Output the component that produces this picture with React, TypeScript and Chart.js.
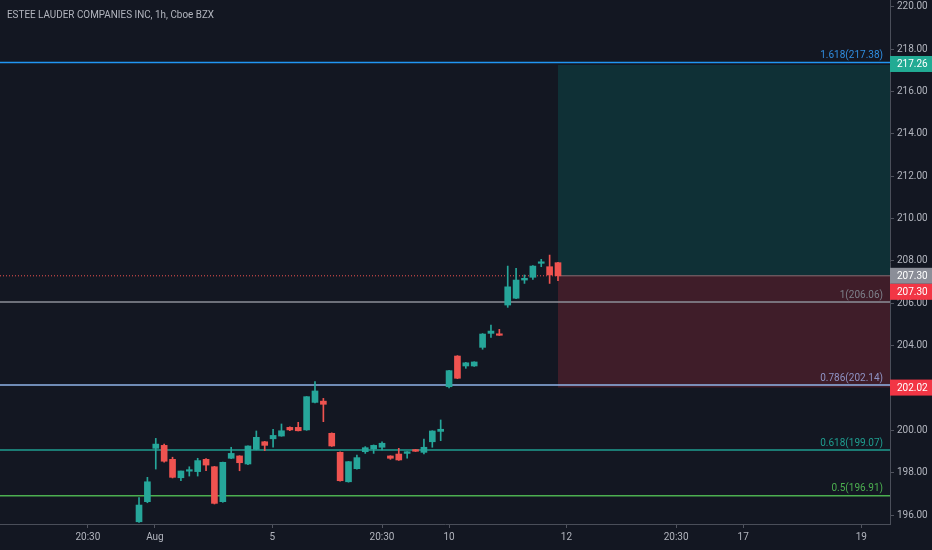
import React, { useEffect, useRef } from "react";
import { Chart, registerables } from "chart.js";

Chart.register(...registerables);

// ---- data ----
const title = "ESTEE LAUDER COMPANIES INC, 1h, Cboe BZX";
const opens = [195.68, 196.63, 199.15, 199.29, 198.63, 197.76, 198.07, 198.05, 198.63, 198.28, 196.63, 198.68, 198.79, 198.41, 199.10, 199.46, 199.60, 199.73, 200.14, 200.14, 200.02, 201.32, 201.38, 199.86, 198.96, 197.57, 198.19, 198.99, 199.12, 199.20, 198.79, 198.88, 198.91, 199.09, 198.96, 199.46, 199.95, 202.06, 203.51, 203.04, 203.04, 203.92, 204.58, 204.55, 205.92, 206.24, 207.10, 207.23, 207.89, 207.73, 207.92];
const highs = [196.82, 197.78, 199.62, 199.35, 198.73, 198.08, 198.28, 198.68, 198.66, 198.30, 198.50, 199.20, 198.80, 199.27, 199.97, 199.48, 200.05, 200.30, 200.16, 200.38, 201.60, 202.30, 201.51, 199.88, 198.98, 198.53, 198.83, 199.23, 199.31, 199.46, 198.80, 199.15, 199.00, 199.10, 199.59, 199.98, 200.49, 202.84, 203.53, 203.21, 203.24, 204.57, 204.97, 204.77, 207.76, 207.65, 207.34, 207.78, 208.08, 208.28, 207.94];
const lows = [195.65, 196.58, 198.17, 198.50, 197.75, 197.62, 197.84, 197.84, 198.09, 196.52, 196.60, 198.66, 198.09, 198.38, 199.08, 199.04, 199.20, 199.72, 199.99, 199.97, 200.00, 201.30, 200.41, 199.24, 197.60, 197.55, 198.17, 198.91, 198.91, 199.07, 198.63, 198.58, 198.68, 199.00, 198.88, 199.20, 199.51, 202.00, 202.44, 202.93, 203.02, 203.83, 204.39, 204.48, 205.81, 206.22, 206.94, 207.13, 207.73, 206.94, 207.07];
const closes = [196.47, 197.57, 199.35, 198.54, 197.78, 198.08, 198.10, 198.57, 198.36, 196.55, 198.49, 198.91, 198.47, 199.26, 199.67, 199.29, 199.76, 199.98, 200.02, 199.98, 201.59, 201.86, 201.23, 199.26, 197.62, 198.52, 198.71, 199.18, 199.29, 199.39, 198.68, 198.60, 198.99, 199.01, 199.20, 199.97, 200.05, 202.82, 202.46, 203.19, 203.23, 204.55, 204.69, 204.49, 206.78, 207.10, 207.18, 207.76, 207.92, 207.34, 207.30];

const yTicks = [196, 198, 200, 202, 204, 206, 208, 210, 212, 214, 216, 218, 220];
const xTickPos = [-6.1, 1.9, 15.9, 29, 37, 51, 64.1, 72.1, 86.2];
const xTickLabels = ["20:30", "Aug", "5", "20:30", "10", "12", "20:30", "17", "19"];

const fibLevels = [1.618, 1, 0.786, 0.618, 0.5];
const fibPrices = [217.38, 206.06, 202.14, 199.07, 196.91];
const fibColors = ["#2196f3", "#8c8f99", "#90b4e8", "#1f9e90", "#4caf50"];
const fibTextColors = ["#2f8de0", "#7d808a", "#8e93c4", "#1f9e90", "#4caf50"];

const entryPrice = 207.30;
const targetPrice = 217.26;
const stopPrice = 202.02;
const positionStart = 50;

const X_MIN = -16.59;
const X_MAX = 89.62;
const Y_MIN = 195.575;
const Y_MAX = 220.33;

const BG = "#131722";
const UP = "#26a69a";
const DOWN = "#ef5350";
const FONT = "Roboto, 'Open Sans', sans-serif";

export default function App() {
  const ref = useRef<HTMLCanvasElement | null>(null);

  useEffect(() => {
    const canvas = ref.current;
    if (!canvas) return;
    const idx = opens.map((_, i) => i);
    const colors = idx.map((i) => (closes[i] >= opens[i] ? UP : DOWN));

    const overlay = {
      id: "overlay",
      beforeDraw(chart: any) {
        const { ctx } = chart;
        ctx.save();
        ctx.fillStyle = BG;
        ctx.fillRect(0, 0, chart.width, chart.height);
        ctx.restore();
      },
      afterDatasetsDraw(chart: any) {
        const { ctx, scales } = chart;
        const y = scales.y;
        const right = chart.chartArea.right;
        ctx.save();
        ctx.font = `10px ${FONT}`;
        ctx.textAlign = "right";
        ctx.textBaseline = "bottom";
        fibLevels.forEach((lv, i) => {
          ctx.fillStyle = fibTextColors[i];
          ctx.fillText(`${lv}(${fibPrices[i].toFixed(2)})`, right - 7, y.getPixelForValue(fibPrices[i]) - 2);
        });
        ctx.restore();
      },
      afterDraw(chart: any) {
        const { ctx, scales } = chart;
        const y = scales.y;
        const left = chart.chartArea.right;
        ctx.save();
        ctx.font = `11px ${FONT}`;
        ctx.fillStyle = "#b2b5be";
        ctx.textAlign = "left";
        ctx.textBaseline = "middle";
        ctx.fillText(title, 7, 15, 207);

        const badges = [
          { v: targetPrice, off: -1, bg: "#22ab94" },
          { v: entryPrice, off: 0, bg: "#8b8e98" },
          { v: entryPrice, off: 16, bg: "#f23645" },
          { v: stopPrice, off: 0, bg: "#f23645" },
        ];
        ctx.font = `10px ${FONT}`;
        badges.forEach((b) => {
          const cy = y.getPixelForValue(b.v) + b.off;
          ctx.fillStyle = b.bg;
          ctx.fillRect(left, cy - 8, chart.width - left, 16);
          ctx.fillStyle = "#ffffff";
          ctx.fillText(b.v.toFixed(2), left + 7, cy + 0.5);
        });
        ctx.restore();
      },
    };

    const hline = (v: number, x0: number, x1: number) => [
      { x: x0, y: v },
      { x: x1, y: v },
    ];

    const datasets: any[] = [
      {
        type: "line",
        data: hline(targetPrice, positionStart, X_MAX),
        borderWidth: 0,
        pointRadius: 0,
        fill: { value: entryPrice },
        backgroundColor: "rgba(0,150,136,0.2)",
        order: 6,
      },
      {
        type: "line",
        data: hline(stopPrice, positionStart, X_MAX),
        borderWidth: 0,
        pointRadius: 0,
        fill: { value: entryPrice },
        backgroundColor: "rgba(242,54,69,0.2)",
        order: 6,
      },
      {
        type: "line",
        data: hline(entryPrice, positionStart, X_MAX),
        borderWidth: 1,
        borderColor: "#8a6b72",
        pointRadius: 0,
        order: 5,
      },
      {
        type: "line",
        data: hline(entryPrice, X_MIN, positionStart),
        borderWidth: 1,
        borderColor: "#ef5350",
        borderDash: [1, 2],
        pointRadius: 0,
        order: 5,
      },
      ...fibPrices.map((p, i) => ({
        type: "line",
        data: hline(p, X_MIN, X_MAX),
        borderWidth: i === 0 ? 1.6 : 1.4,
        borderColor: fibColors[i],
        pointRadius: 0,
        order: 4,
      })),
      {
        type: "bar",
        data: idx.map((i) => ({ x: i, y: [lows[i], highs[i]] })),
        backgroundColor: colors,
        borderWidth: 0,
        barThickness: 1,
        grouped: false,
        order: 2,
      },
      {
        type: "bar",
        data: idx.map((i) => ({ x: i, y: [opens[i], closes[i]] })),
        backgroundColor: colors,
        borderWidth: 0,
        barThickness: 6,
        minBarLength: 1.5,
        grouped: false,
        order: 1,
      },
    ];

    const chart = new Chart(canvas, {
      type: "bar",
      data: { datasets },
      plugins: [overlay],
      options: {
        animation: false,
        responsive: false,
        layout: { padding: 0 },
        plugins: { legend: { display: false }, tooltip: { enabled: false } },
        scales: {
          x: {
            type: "linear",
            min: X_MIN,
            max: X_MAX,
            offset: false,
            afterBuildTicks: (s: any) => {
              s.ticks = xTickPos.map((v) => ({ value: v }));
            },
            afterFit: (s: any) => {
              s.height = 26;
              s.paddingLeft = 0;
              s.paddingRight = 0;
            },
            grid: { drawOnChartArea: false, drawTicks: true, tickLength: 4, color: "#50535e", offset: false },
            border: { display: true, color: "#4a4e59", width: 1 },
            ticks: {
              autoSkip: false,
              maxRotation: 0,
              padding: 3,
              color: "#b2b5be",
              font: { family: FONT, size: 10 },
              callback: (_v: any, i: number) => xTickLabels[i],
            },
          },
          y: {
            type: "linear",
            position: "right",
            min: Y_MIN,
            max: Y_MAX,
            afterBuildTicks: (s: any) => {
              s.ticks = yTicks.map((v) => ({ value: v }));
            },
            afterFit: (s: any) => {
              s.width = 42;
              s.paddingTop = 0;
              s.paddingBottom = 0;
            },
            grid: { drawOnChartArea: false, drawTicks: true, tickLength: 4, color: "#50535e" },
            border: { display: true, color: "#4a4e59", width: 1 },
            ticks: {
              autoSkip: false,
              padding: 3,
              color: "#b2b5be",
              font: { family: FONT, size: 10 },
              callback: (v: any) => Number(v).toFixed(2),
            },
          },
        },
      } as any,
    });
    return () => chart.destroy();
  }, []);

  return (
    <div style={{ position: "absolute", left: 0, top: 0, width: 932, height: 550, background: BG }}>
      <canvas ref={ref} width={932} height={550} style={{ display: "block" }} />
    </div>
  );
}
